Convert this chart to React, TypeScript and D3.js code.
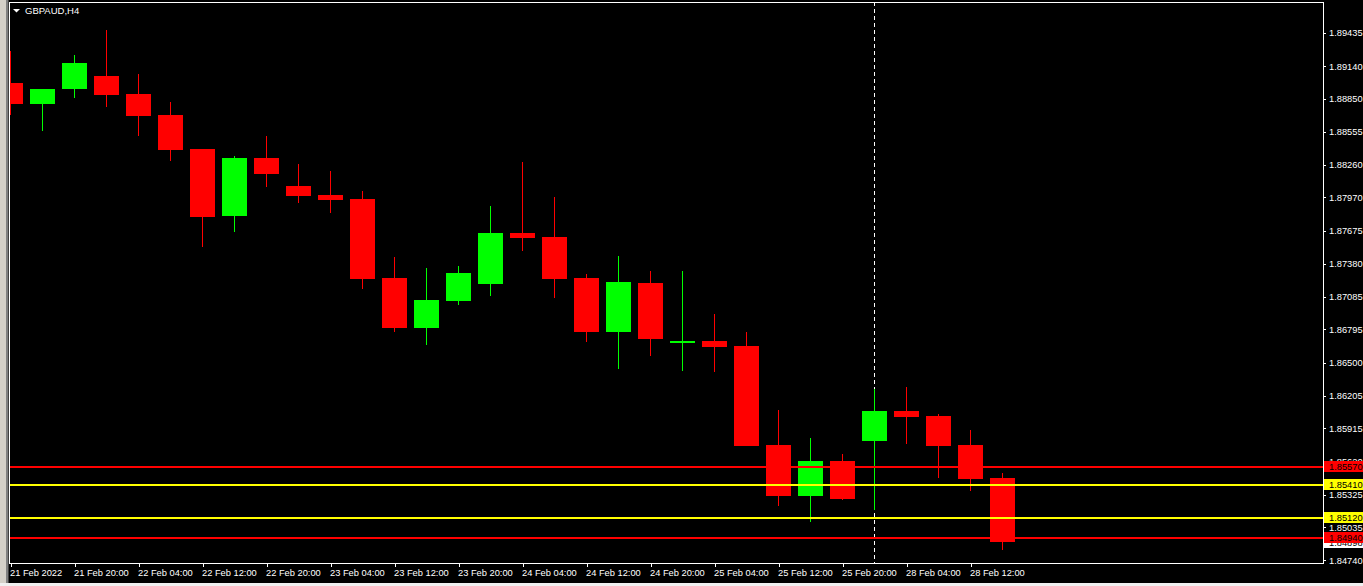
import React from "react";
import * as d3 from "d3";

// ---- Data (GBPAUD, H4) ----
const opens = [1.88990, 1.88806, 1.88936, 1.89052, 1.88892, 1.88705, 1.88402, 1.87809, 1.88322, 1.88073, 1.87993, 1.87957, 1.87254, 1.86812, 1.87052, 1.87203, 1.87655, 1.87619, 1.87254, 1.86776, 1.87209, 1.86678, 1.86693, 1.86649, 1.85767, 1.85316, 1.85625, 1.85803, 1.86070, 1.86025, 1.85767, 1.85474];
const highs = [1.89275, 1.88940, 1.89239, 1.89462, 1.89070, 1.88821, 1.88405, 1.88340, 1.88518, 1.88269, 1.88207, 1.88028, 1.87441, 1.87343, 1.87361, 1.87895, 1.88287, 1.87975, 1.87290, 1.87450, 1.87316, 1.87316, 1.86934, 1.86773, 1.86079, 1.85830, 1.85687, 1.86266, 1.86284, 1.86043, 1.85901, 1.85518];
const lows = [1.88708, 1.88565, 1.88859, 1.88776, 1.88521, 1.88298, 1.87533, 1.87666, 1.88067, 1.87924, 1.87835, 1.87159, 1.86776, 1.86660, 1.87016, 1.87096, 1.87497, 1.87079, 1.86687, 1.86447, 1.86562, 1.86429, 1.86420, 1.85761, 1.85227, 1.85084, 1.85280, 1.85191, 1.85779, 1.85476, 1.85352, 1.84835];
const closes = [1.88806, 1.88936, 1.89168, 1.88883, 1.88699, 1.88396, 1.87800, 1.88322, 1.88183, 1.87987, 1.87951, 1.87248, 1.86812, 1.87058, 1.87298, 1.87655, 1.87613, 1.87248, 1.86776, 1.87218, 1.86714, 1.86693, 1.86642, 1.85761, 1.85316, 1.85625, 1.85289, 1.86070, 1.86019, 1.85761, 1.85467, 1.84898];

const timeLabels = ["21 Feb 2022", "21 Feb 20:00", "22 Feb 04:00", "22 Feb 12:00", "22 Feb 20:00", "23 Feb 04:00", "23 Feb 12:00", "23 Feb 20:00", "24 Feb 04:00", "24 Feb 12:00", "24 Feb 20:00", "25 Feb 04:00", "25 Feb 12:00", "25 Feb 20:00", "28 Feb 04:00", "28 Feb 12:00"];
const priceTicks = [1.89435, 1.89140, 1.88850, 1.88555, 1.88260, 1.87970, 1.87675, 1.87380, 1.87085, 1.86795, 1.86500, 1.86205, 1.85915, 1.85620, 1.85325, 1.85035, 1.84740];

const redLevels = [1.85570, 1.84940];
const yellowLevels = [1.85410, 1.85120];
const separatorIndex = 27;
const title = "GBPAUD,H4";

const W = 1363;
const H = 586;
const left = 10;
const right = 1323.5;
const top = 2;
const bottom = 563;
const FONT = "'Liberation Sans', Arial, sans-serif";

export default function App() {
  const n = closes.length;
  const x = d3.scaleLinear().domain([0, n - 1]).range([10.5, 10.5 + 32 * (n - 1)]);
  const y = d3.scaleLinear().domain([1.84715, 1.89711]).range([bottom, top]);
  const bodyW = 25;

  const candles = d3.range(n).map((i) => {
    const o = opens[i], c = closes[i], h = highs[i], l = lows[i];
    const up = c >= o;
    const col = up ? "#00ff00" : "#ff0000";
    const cx = x(i);
    const yTop = Math.round(y(Math.max(o, c)));
    const yBot = Math.round(y(Math.min(o, c)));
    return (
      <g key={i}>
        <rect x={cx - 0.5} y={Math.round(y(h))} width={1} height={Math.max(1, Math.round(y(l)) - Math.round(y(h)))} fill={col} />
        <rect x={cx - bodyW / 2} y={yTop} width={bodyW} height={Math.max(1, yBot - yTop)} fill={col} />
      </g>
    );
  });

  const levelLine = (v: number, col: string, key: string) => (
    <line key={key} x1={left} x2={right} y1={y(v)} y2={y(v)} stroke={col} strokeWidth={2} />
  );

  const levelLabel = (v: number, bg: string, key: string) => (
    <g key={key}>
      <rect x={1324} y={y(v) - 5.5} width={39} height={11} fill={bg} />
      <text x={1329} y={y(v) + 3.5} fontSize={9.3} fontFamily={FONT} fill="#000">{v.toFixed(5)}</text>
    </g>
  );

  const lastClose = closes[n - 1];

  return (
    <svg width={W} height={H} style={{ position: "absolute", left: 0, top: 0, display: "block" }} shapeRendering="crispEdges">
      <defs>
        <clipPath id="plot">
          <rect x={left} y={top} width={right - left} height={bottom - top} />
        </clipPath>
      </defs>
      <rect x={0} y={0} width={W} height={H} fill="#000" />
      {/* left window edge */}
      <rect x={0} y={0} width={6} height={H} fill="#d4d0c8" />
      <rect x={6} y={0} width={2} height={H} fill="#808080" />
      <rect x={8} y={0} width={1} height={H} fill="#404040" />
      {/* bottom strip */}
      <rect x={0} y={583} width={W} height={3} fill="#f0f0f0" />

      <g clipPath="url(#plot)">
        <line x1={x(separatorIndex)} x2={x(separatorIndex)} y1={top} y2={bottom} stroke="#fff" strokeWidth={1} strokeDasharray="4,3" />
        {candles}
        {redLevels.map((v, i) => levelLine(v, "#ff0000", "r" + i))}
        {yellowLevels.map((v, i) => levelLine(v, "#ffff00", "y" + i))}
      </g>

      {/* frame */}
      <line x1={9.5} x2={9.5} y1={top} y2={bottom + 0.5} stroke="#fff" />
      <line x1={9.5} x2={right} y1={top + 0.5} y2={top + 0.5} stroke="#fff" />
      <line x1={right} x2={right} y1={top} y2={bottom + 0.5} stroke="#fff" />
      <line x1={9.5} x2={right} y1={bottom} y2={bottom} stroke="#fff" />

      {/* title */}
      <path d="M13,9 L20,9 L16.5,12.5 Z" fill="#fff" shapeRendering="auto" />
      <text x={25} y={14} fontSize={9.5} fontFamily={FONT} fill="#fff">{title}</text>

      {/* price axis */}
      {priceTicks.map((v, i) => (
        <g key={"pt" + i}>
          <line x1={1324} x2={1326} y1={Math.round(y(v)) + 0.5} y2={Math.round(y(v)) + 0.5} stroke="#fff" />
          <text x={1329} y={y(v) + 3.5} fontSize={9.3} fontFamily={FONT} fill="#fff">{v.toFixed(5)}</text>
        </g>
      ))}
      {/* current price label */}
      <rect x={1324} y={y(lastClose) - 5.5} width={39} height={11} fill="#fff" />
      <text x={1329} y={y(lastClose) + 3.5} fontSize={9.3} fontFamily={FONT} fill="#000">{lastClose.toFixed(5)}</text>
      {redLevels.map((v, i) => levelLabel(v, "#ff0000", "rl" + i))}
      {yellowLevels.map((v, i) => levelLabel(v, "#ffff00", "yl" + i))}

      {/* time axis */}
      {timeLabels.map((t, i) => {
        const tx = Math.round(x(i * 2));
        return (
          <g key={"tl" + i}>
            <line x1={tx + 0.5} x2={tx + 0.5} y1={bottom} y2={bottom + 4} stroke="#fff" />
            <text x={tx - 1} y={576} fontSize={9.3} fontFamily={FONT} fill="#fff">{t}</text>
          </g>
        );
      })}
    </svg>
  );
}
